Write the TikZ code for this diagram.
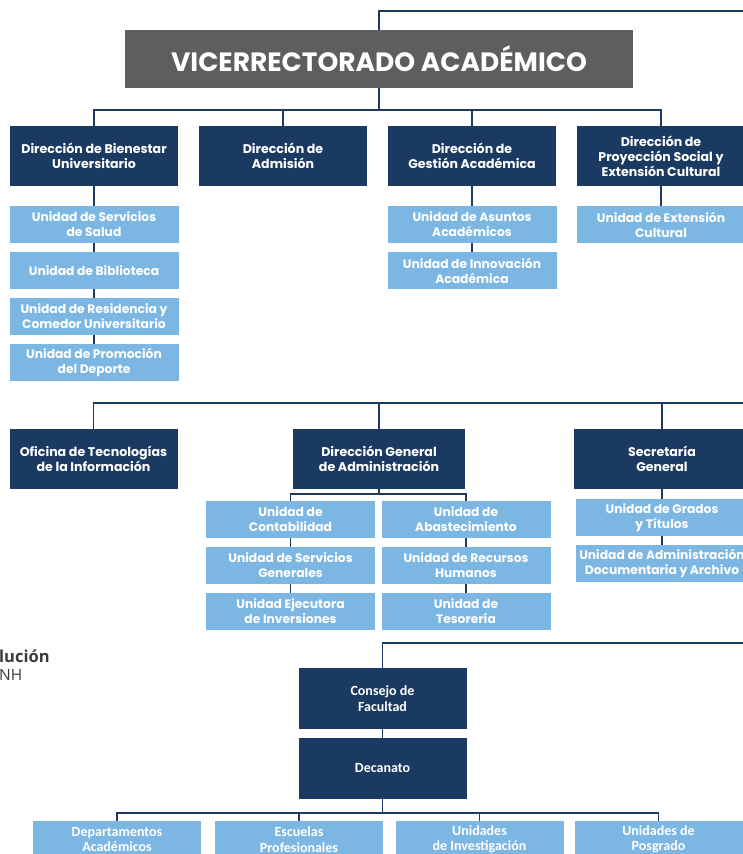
\documentclass[tikz,border=0pt]{standalone}
\usepackage{fontspec}
\setmainfont{Poppins}
\newfontfamily\facfont{Carlito}
\newfontfamily\notefont{Open Sans}
\usepackage{tikz}
\usetikzlibrary{calc,positioning}
\definecolor{colorvr}{HTML}{5E5E5E}
\definecolor{colordir}{HTML}{1B3A61}
\definecolor{colorund}{HTML}{7CB7E4}
\definecolor{colorln}{HTML}{1F3A60}
\definecolor{colornote}{HTML}{3A3A3A}
\tikzset{vr/.style={fill=colorvr, text=white, minimum width=508pt, minimum height=58pt, inner sep=0pt, font=\fontsize{26.5}{30}\selectfont\bfseries}}
\tikzset{dir/.style={fill=colordir, text=white, minimum width=168pt, minimum height=60pt, inner sep=0pt, align=center, font=\fontsize{12.6}{14.8}\selectfont\bfseries}}
\tikzset{und/.style={fill=colorund, text=white, minimum width=169pt, minimum height=37pt, inner sep=0pt, align=center, font=\fontsize{12.3}{15}\selectfont\bfseries}}
\tikzset{facdir/.style={dir, minimum height=61pt, font=\facfont\fontsize{14}{16}\selectfont\bfseries}}
\tikzset{facund/.style={und, font=\facfont\fontsize{14}{15.5}\selectfont\bfseries}}
\tikzset{note/.style={colornote, inner sep=0pt, anchor=base west}}
\tikzset{edgeln/.style={colorln, line width=1.3pt}}

\begin{document}
\begin{tikzpicture}[x=1pt, y=-1pt]
\clip (0,0) rectangle (743,854);
% vicerrectorado
\node[vr] (vr) at (379,59) {VICERRECTORADO ACADÉMICO};
\coordinate (vrend) at (760,11);
\draw[edgeln] (vr.north) |- (vrend);
% direcciones
\node[dir] (bien) at (94,156) {Dirección de Bienestar\\Universitario};
\node[dir] (adm) at (283,156) {Dirección de\\Admisión};
\node[dir] (gest) at (472,156) {Dirección de\\Gestión Académica};
\node[dir] (proy) at (661,156) {Dirección de\\Proyección Social y\\Extensión Cultural};
\coordinate (r1) at (0,110);
\draw[edgeln] (vr.south) -- (vr.south |- r1);
\draw[edgeln] (bien.north) |- (proy.north |- r1) -- (proy.north);
\draw[edgeln] (adm.north) -- (adm.north |- r1);
\draw[edgeln] (gest.north) -- (gest.north |- r1);
% unidades
\node[und] (salud) at (94,224.5) {Unidad de Servicios\\de Salud};
\node[und] (bibl) at (94,270.5) {Unidad de Biblioteca};
\node[und] (resid) at (94,316.5) {Unidad de Residencia y\\Comedor Universitario};
\node[und] (depor) at (94,362.5) {Unidad de Promoción\\del Deporte};
\draw[edgeln] (bien) -- (salud) -- (bibl) -- (resid) -- (depor);
\node[und] (asun) at (472,224.5) {Unidad de Asuntos\\Académicos};
\node[und] (innov) at (472,270.5) {Unidad de Innovación\\Académica};
\draw[edgeln] (gest) -- (asun) -- (innov);
\node[und] (ext) at (661,224.5) {Unidad de Extensión\\Cultural};
\draw[edgeln] (proy) -- (ext);
% segundo nivel
\node[dir] (oti) at (93.5,459) {Oficina de Tecnologías\\de la Información};
\node[dir, minimum width=172pt] (dga) at (379,459) {Dirección General\\de Administración};
\node[dir, minimum width=176pt] (sec) at (662,459) {Secretaría\\General};
\coordinate (r2end) at (760,403);
\draw[edgeln] (oti.north) |- (r2end);
\draw[edgeln] (dga.north) -- (dga.north |- r2end);
\draw[edgeln] (sec.north) -- (sec.north |- r2end);
\node[und] (cont) at (290.5,519.5) {Unidad de\\Contabilidad};
\node[und] (sgen) at (290.5,565.5) {Unidad de Servicios\\Generales};
\node[und] (ejec) at (290.5,611.5) {Unidad Ejecutora\\de Inversiones};
\node[und] (abas) at (466,519.5) {Unidad de\\Abastecimiento};
\node[und] (rrhh) at (466,565.5) {Unidad de Recursos\\Humanos};
\node[und] (teso) at (466,611.5) {Unidad de\\Tesorería};
\coordinate (r2b) at (0,494);
\draw[edgeln] (dga.south) -- (dga.south |- r2b);
\draw[edgeln] (cont.north) |- (abas.north |- r2b) -- (abas.north);
\draw[edgeln] (cont) -- (sgen) -- (ejec);
\draw[edgeln] (abas) -- (rrhh) -- (teso);
\node[und, minimum width=172pt] (grad) at (662,517.5) {Unidad de Grados\\y Títulos};
\node[und, minimum width=172pt] (adoc) at (662,563.5) {Unidad de Administración\\Documentaria y Archivo};
\draw[edgeln] (sec) -- (grad) -- (adoc);
% facultad
\node[note, font=\notefont\fontsize{16.5}{19}\selectfont\bfseries] (nota) at (-1,662) {lución};
\node[note, font=\notefont\fontsize{15.5}{18}\selectfont] (notb) at (-1,680) {NH};
\node[facdir] (cons) at (382.5,698.5) {Consejo de\\Facultad};
\node[facdir] (dec) at (382.5,768.5) {Decanato};
\coordinate (r3end) at (760,643);
\draw[edgeln] (cons.north) |- (r3end);
\draw[edgeln] (cons) -- (dec);
\node[facund, minimum width=168pt] (depa) at (117,839.5) {Departamentos\\Académicos};
\node[facund, minimum width=168pt] (escu) at (299,839.5) {Escuelas\\Profesionales};
\node[facund, minimum width=168pt] (inve) at (479.5,839.5) {Unidades\\de Investigación};
\node[facund, minimum width=168pt] (posg) at (658.5,839.5) {Unidades de\\Posgrado};
\coordinate (r3b) at (0,813);
\draw[edgeln] (dec.south) -- (dec.south |- r3b);
\draw[edgeln] (depa.north) |- (posg.north |- r3b) -- (posg.north);
\draw[edgeln] (escu.north) -- (escu.north |- r3b);
\draw[edgeln] (inve.north) -- (inve.north |- r3b);
\end{tikzpicture}
\end{document}
